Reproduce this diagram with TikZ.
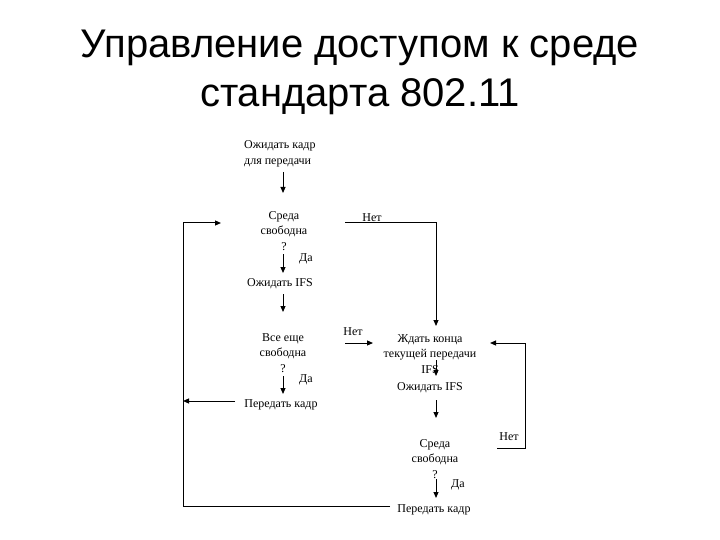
\documentclass[tikz,border=0pt]{standalone}
\usepackage{fontspec}
\setmainfont{Liberation Serif}
\newfontfamily\titlefont{Liberation Sans}
\usetikzlibrary{arrows.meta}
\tikzset{
  lbl/.style={inner sep=0pt, font=\fontsize{12}{15.5}\selectfont, align=center},
  ttl/.style={inner sep=0pt, font=\titlefont\fontsize{40}{48}\selectfont},
  flow/.style={line width=1pt, -{Triangle[length=6pt,width=5pt]}},
  wire/.style={line width=1pt}
}
\begin{document}
\begin{tikzpicture}[x=1pt,y=-1pt]
\useasboundingbox[fill=white] (0,0) rectangle (720,540);
% title
\node[ttl] (t1) at (360,48) {Управление доступом к среде};
\node[ttl] (t2) at (360,97) {стандарта 802.11};
% left column
\node[lbl, align=left, anchor=west] (wait) at (244,154) {Ожидать кадр\\для передачи};
\node[lbl] (free1) at (284,231) {Среда\\свободна\\?};
\node[lbl] (da1) at (306,259) {Да};
\node[lbl] (net1) at (372,218) {Нет};
\node[lbl] (ifs1) at (280,284) {Ожидать IFS};
\node[lbl] (still) at (283,353) {Все еще\\свободна\\?};
\node[lbl] (da2) at (306,380) {Да};
\node[lbl] (net2) at (353,332) {Нет};
\node[lbl] (send1) at (281,405) {Передать кадр};
% right column
\node[lbl] (waitend) at (430,354) {Ждать конца\\текущей передачи\\IFS};
\node[lbl] (ifs2) at (430,388) {Ожидать IFS};
\node[lbl] (net3) at (509,437) {Нет};
\node[lbl] (free2) at (435,459) {Среда\\свободна\\?};
\node[lbl] (da3) at (458,485) {Да};
\node[lbl] (send2) at (434,510) {Передать кадр};
% coordinates
\coordinate (a1s) at (283,172); \coordinate (a1e) at (283,193);
\coordinate (a2s) at (283,254); \coordinate (a2e) at (283,273);
\coordinate (a3s) at (283,294); \coordinate (a3e) at (283,312);
\coordinate (a4s) at (283,376); \coordinate (a4e) at (283,394);
\coordinate (lx1) at (183,223); \coordinate (lend) at (221,223);
\coordinate (lbot) at (183,506); \coordinate (bend) at (390,506);
\coordinate (sendl) at (235,401); \coordinate (sendle) at (183,401);
\coordinate (n1s) at (345,223); \coordinate (n1c) at (436,223); \coordinate (n1e) at (436,326);
\coordinate (n2s) at (345,343); \coordinate (n2e) at (373,343);
\coordinate (a5s) at (436,360); \coordinate (a5e) at (436,376);
\coordinate (a6s) at (436,400); \coordinate (a6e) at (436,418);
\coordinate (a7s) at (436,479); \coordinate (a7e) at (436,498);
\coordinate (r1) at (497,448); \coordinate (r2) at (525,448); \coordinate (r3) at (525,343); \coordinate (r4) at (490,343);
% connectors
\draw[flow] (a1s) -- (a1e);
\draw[flow] (a2s) -- (a2e);
\draw[flow] (a3s) -- (a3e);
\draw[flow] (a4s) -- (a4e);
\draw[flow] (bend) -- (lbot) -- (lx1) -- (lend);
\draw[flow] (sendl) -- (sendle);
\draw[flow] (n1s) -- (n1c) -- (n1e);
\draw[flow] (n2s) -- (n2e);
\draw[flow] (a5s) -- (a5e);
\draw[flow] (a6s) -- (a6e);
\draw[flow] (a7s) -- (a7e);
\draw[flow] (r1) -- (r2) -- (r3) -- (r4);
\end{tikzpicture}
\end{document}
